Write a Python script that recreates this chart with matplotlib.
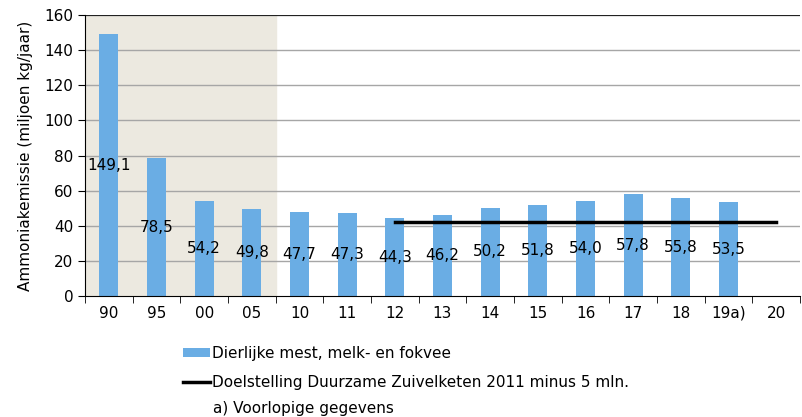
import numpy as np
import matplotlib.pyplot as plt

# Gegevens
jaren = ['90', '95', '00', '05', '10', '11', '12', '13', '14', '15', '16', '17', '18', '19a)', '20']
emissie = [149.1, 78.5, 54.2, 49.8, 47.7, 47.3, 44.3, 46.2, 50.2, 51.8, 54.0, 57.8, 55.8, 53.5, np.nan]
labels = ['149,1', '78,5', '54,2', '49,8', '47,7', '47,3', '44,3', '46,2', '50,2', '51,8', '54,0', '57,8', '55,8', '53,5', '']
doel_jaren = ['12', '20']
doel_waarde = 42.3

plt.rcParams['font.family'] = 'DejaVu Sans'
plt.rcParams['font.size'] = 11

fig = plt.figure(figsize=(8.02, 4.17), dpi=100)
ax = fig.add_axes([85 / 802, 1 - 296 / 417, 715 / 802, 281 / 417])

x = np.arange(len(jaren))
ax.axvspan(-0.5, 3.5, color='#ece9e0', zorder=0)
for y in range(20, 161, 20):
    ax.axhline(y, color='#a6a6a6', lw=1, zorder=1)
ax.axhline(160, color='#222222', lw=1.5, zorder=1)

bars = ax.bar(x, emissie, width=0.4, color='#6aade4', zorder=2,
              label='Dierlijke mest, melk- en fokvee')
for xi, v, lab in zip(x, emissie, labels):
    if lab:
        ax.text(xi, v / 2, lab, ha='center', va='center', fontsize=11, zorder=4)

i0, i1 = jaren.index(doel_jaren[0]), jaren.index(doel_jaren[1])
lijn, = ax.plot([x[i0], x[i1]], [doel_waarde, doel_waarde], color='black', lw=2.5, zorder=3,
                label='Doelstelling Duurzame Zuivelketen 2011 minus 5 mln.')

ax.set_xlim(-0.5, len(jaren) - 0.5)
ax.set_ylim(0, 160)
ax.set_yticks(range(0, 161, 20))
ax.set_xticks(x)
ax.set_xticklabels(jaren)
ax.set_xticks(np.arange(-0.5, len(jaren), 1), minor=True)
ax.tick_params(axis='x', which='major', length=0, pad=7)
ax.tick_params(axis='x', which='minor', length=5, direction='out')
ax.tick_params(axis='y', length=5, direction='out')
for s in ['top', 'right']:
    ax.spines[s].set_visible(False)
ax.set_ylabel('Ammoniakemissie (miljoen kg/jaar)', labelpad=8)

leg = fig.legend(handles=[bars, lijn], loc='upper left', bbox_to_anchor=(175 / 802, 1 - 338 / 417),
                 frameon=False, handlelength=1.8, handleheight=0.55, handletextpad=0.1,
                 labelspacing=0.95, borderpad=0)
fig.text(213 / 802, 1 - 409 / 417, 'a) Voorlopige gegevens', va='center')

fig.savefig('out.png', dpi=100)
